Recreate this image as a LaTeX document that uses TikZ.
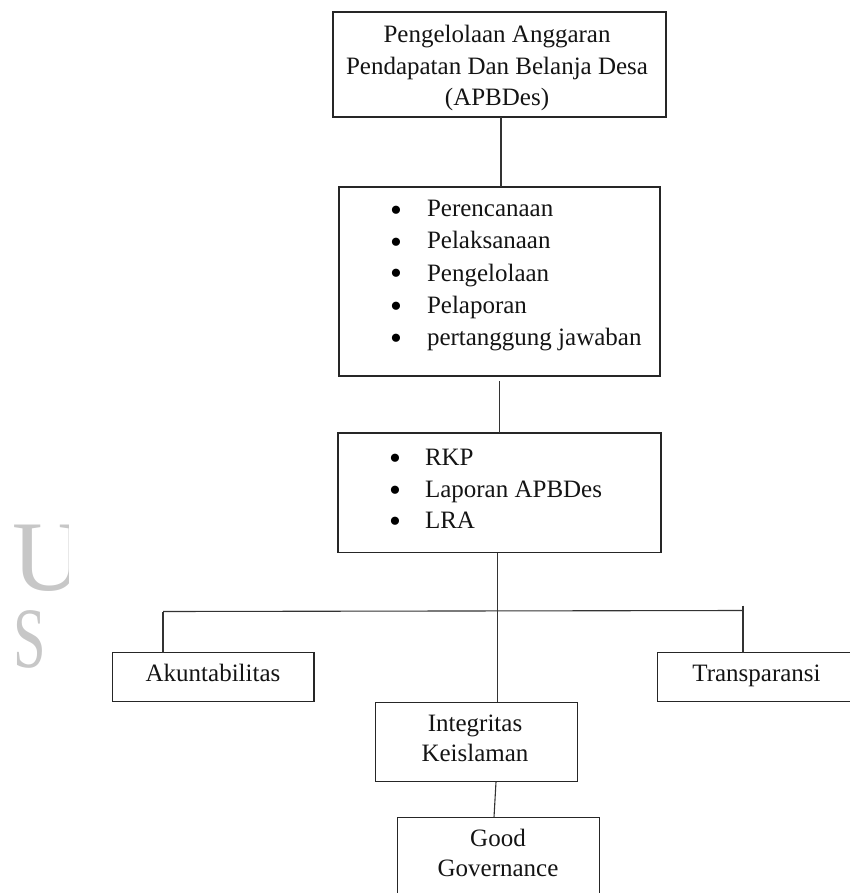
\documentclass[tikz,border=0pt]{standalone}
\usepackage{fontspec}
\setmainfont{Liberation Serif}
\begin{document}
\begin{tikzpicture}[x=0.5pt,y=-0.5pt,
  box/.style={draw=black!85, line width=0.6pt, inner sep=0pt, outer sep=0pt},
  conn/.style={draw=black!80, line width=0.55pt},
  txt/.style={inner sep=0pt, outer sep=0pt, font=\fontsize{12.5pt}{16pt}\selectfont, text=black!92},
  bul/.style={inner sep=0pt, outer sep=0pt, font=\fontsize{17pt}{17pt}\selectfont, text=black, anchor=base},
  wm/.style={inner sep=0pt, outer sep=0pt, text=black!22}]
\useasboundingbox (0,0) rectangle (850,893);
% watermark letters
\begin{scope}
  \clip (0,500) rectangle (68,600);
  \node[wm, anchor=base west, font=\fontsize{50pt}{50pt}\selectfont] (wmU) at (12,590) {U};
\end{scope}
\node[wm, anchor=base west, font=\fontsize{43pt}{43pt}\selectfont] (wmS) at (13,667) {\scalebox{0.68}[1]{S}};
% boxes
\node[box, minimum width=166.5pt, minimum height=52.5pt] (top) at (499.5,64.5) {};
\node[box, minimum width=160.5pt, minimum height=94.5pt] (stages) at (499.5,281.5) {};
\node[box, minimum width=161.5pt, minimum height=59.75pt] (docs) at (499.5,492.75) {};
\node[box, minimum width=100.65pt, minimum height=24.4pt] (akun) at (213.35,677.1) {};
\node[box, minimum width=101.15pt, minimum height=24.4pt] (trans) at (758.85,677) {};
\node[box, minimum width=100.8pt, minimum height=39.7pt] (integ) at (476.5,742) {};
\node[box, minimum width=100.8pt, minimum height=39.85pt] (gg) at (498.5,857.15) {};
% texts
\node[txt, anchor=base] (t1) at (497,42.7) {Pengelolaan Anggaran};
\node[txt, anchor=base] (t2) at (497,74.2) {Pendapatan Dan Belanja Desa};
\node[txt, anchor=base] (t3) at (497,106) {(APBDes)};
\foreach \y/\s [count=\i] in {217/Perencanaan,249/Pelaksanaan,281/Pengelolaan,313/Pelaporan,345/pertanggung jawaban}{
  \node[bul] (sb\i) at (396,\y+4) {\textbullet};
  \node[txt, anchor=base west] (st\i) at (427,\y) {\s};
}
\foreach \y/\s [count=\i] in {465/RKP,497/Laporan APBDes,528/LRA}{
  \node[bul] (db\i) at (395,\y+4) {\textbullet};
  \node[txt, anchor=base west] (dt\i) at (425,\y) {\s};
}
\node[txt, anchor=base] (ta) at (213,681.7) {Akuntabilitas};
\node[txt, anchor=base] (tt) at (756.5,681.7) {Transparansi};
\node[txt, anchor=base] (ti1) at (475,731.7) {Integritas};
\node[txt, anchor=base] (ti2) at (475,761) {Keislaman};
\node[txt, anchor=base] (tg1) at (498,846.7) {Good};
\node[txt, anchor=base] (tg2) at (498,876.7) {Governance};
% connectors
\draw[conn] ([xshift=0.75pt]top.south) -- ([xshift=0.75pt]top.south |- stages.north);
\draw[conn] ([yshift=-2.7pt]stages.south) -- (docs.north);
\coordinate (hl) at (163,611.5);
\coordinate (hr) at (743,610.5);
\coordinate (hrtop) at (743,605.7);
\draw[conn] ([xshift=-1pt]docs.south) -- ([xshift=-1pt]docs.south |- integ.north);
\draw[conn] (hl) -- (hr);
\draw[conn] (hl) -- (hl |- akun.north);
\draw[conn] (hrtop) -- (hrtop |- trans.north);
\draw[conn] ([xshift=9.75pt]integ.south) -- ([xshift=-2.25pt]gg.north);
\end{tikzpicture}
\end{document}
